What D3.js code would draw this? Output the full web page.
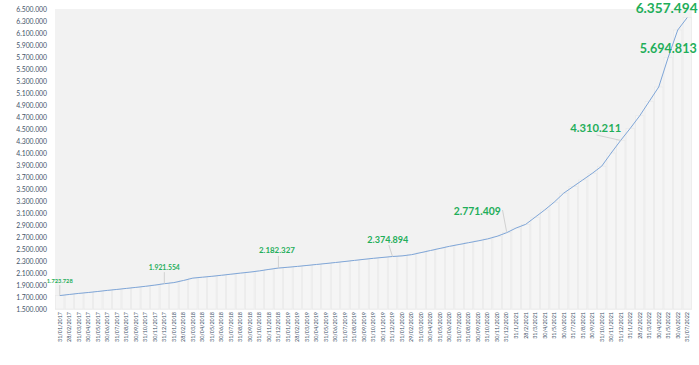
<!DOCTYPE html>
<html>
<head>
<meta charset="utf-8">
<script src="https://cdn.jsdelivr.net/npm/d3@7"></script>
<style>
  html, body { margin: 0; padding: 0; background: #ffffff; }
  svg { display: block; }
</style>
</head>
<body>
<svg id="chart" width="699" height="365"></svg>
<script>
// ---- DATA ----
const dates = [
  "31/01/2017","28/02/2017","31/03/2017","30/04/2017","31/05/2017","30/06/2017","31/07/2017","31/08/2017","30/09/2017","31/10/2017","30/11/2017","31/12/2017",
  "31/01/2018","28/02/2018","31/03/2018","30/04/2018","31/05/2018","30/06/2018","31/07/2018","31/08/2018","30/09/2018","31/10/2018","30/11/2018","31/12/2018",
  "31/01/2019","28/02/2019","31/03/2019","30/04/2019","31/05/2019","30/06/2019","31/07/2019","31/08/2019","30/09/2019","31/10/2019","30/11/2019","31/12/2019",
  "31/01/2020","29/02/2020","31/03/2020","30/04/2020","31/05/2020","30/06/2020","31/07/2020","31/08/2020","30/09/2020","31/10/2020","30/11/2020","31/12/2020",
  "31/1/2021","28/2/2021","31/3/2021","30/4/2021","31/5/2021","30/6/2021","31/7/2021","31/8/2021","30/9/2021","31/10/2021","30/11/2021","31/12/2021",
  "31/1/2022","28/2/2022","31/3/2022","30/4/2022","31/5/2022","30/6/2022","31/07/2022"
];
const values = [
  1723728,1742000,1760000,1775000,1792000,1810000,1826000,1843000,1860000,1878000,1898000,1921554,
  1940000,1975000,2015000,2030000,2045000,2062000,2080000,2098000,2115000,2135000,2160000,2182327,
  2196000,2210000,2226000,2242000,2258000,2275000,2292000,2310000,2328000,2345000,2360000,2374894,
  2385000,2405000,2440000,2475000,2510000,2545000,2575000,2605000,2635000,2668000,2712000,2771409,
  2850000,2910000,3030000,3150000,3280000,3430000,3540000,3650000,3760000,3880000,4100000,4310211,
  4510000,4720000,4960000,5200000,5694813,6150000,6357494
];
const yTicks = [1500000,1700000,1900000,2100000,2300000,2500000,2700000,2900000,3100000,3300000,
  3500000,3700000,3900000,4100000,4300000,4500000,4700000,4900000,5100000,5300000,5500000,5700000,
  5900000,6100000,6300000,6500000];
const labelIdx = [0, 11, 23, 35, 47, 59, 64, 66];

// ---- LAYOUT / STYLE ----
const plot = { left: 55, right: 692, top: 9, bottom: 309 };
// label placement: offsets of label centre/baseline from point, target text width, leader
const labelStyle = [
  { dx: 0,    dy: -12.6, w: 26, leader: [[0,-10.5],[0,0]] },
  { dx: 0,    dy: -13.7, w: 31, leader: [[0,-11.5],[0,0]] },
  { dx: -1.5, dy: -15,   w: 36, leader: [[0,-12],[0,0]] },
  { dx: -4.7, dy: -13.5, w: 41, leader: [[-3.7,-11.5],[0,0]] },
  { dx: -29.3,dy: -17.7, w: 47, leader: [[-4.1,-22.7],[0,-1]] },
  { dx: -25,  dy: -8.4,  w: 51, leader: [[-24.3,-5.4],[0,0]] },
  { dx: 0,    dy: -4.3,  w: 57, leader: null },
  { dx: -20.6,dy: -4.2,  w: 62, leader: null }
];

const svg = d3.select("#chart");
const fmt = d3.formatLocale({ decimal: ",", thousands: ".", grouping: [3], currency: ["", ""] }).format(",d");

const x = d3.scaleBand().domain(dates).range([plot.left, plot.right]).paddingInner(0.12).paddingOuter(0.06);
const y = d3.scaleLinear().domain([1500000, 6500000]).range([plot.bottom, plot.top]);

// plot background
svg.append("rect")
  .attr("x", plot.left).attr("y", plot.top)
  .attr("width", plot.right - plot.left).attr("height", plot.bottom - plot.top + 1)
  .attr("fill", "#f2f2f2");

// bars
svg.append("g").selectAll("rect").data(values).join("rect")
  .attr("x", (d, i) => x(dates[i]))
  .attr("width", x.bandwidth())
  .attr("y", d => y(d))
  .attr("height", d => y(1500000) - y(d))
  .attr("fill", "#f5f5f5")
  .attr("stroke", "#e6e6e6")
  .attr("stroke-width", 0.5);

// y axis
const yAxis = d3.axisLeft(y).tickValues(yTicks).tickFormat(fmt).tickSize(0).tickPadding(0);
const gy = svg.append("g").attr("transform", `translate(47,0)`).call(yAxis);
gy.select(".domain").remove();
gy.selectAll("text")
  .attr("fill", "#44546a")
  .style("font-family", "Lato, 'Open Sans', sans-serif")
  .style("font-size", "6.8px");

// x axis
const xAxis = d3.axisBottom(x).tickSize(0).tickPadding(0);
const gx = svg.append("g").attr("transform", `translate(0,${plot.bottom + 3})`).call(xAxis);
gx.select(".domain").remove();
gx.selectAll("text")
  .attr("transform", "rotate(-90)")
  .attr("text-anchor", "end")
  .attr("x", 0).attr("y", 0).attr("dy", "0.35em")
  .attr("fill", "#44546a")
  .style("font-family", "Lato, 'Open Sans', sans-serif")
  .style("font-size", "5.4px");

// line
const cx = (i) => x(dates[i]) + x.bandwidth() / 2;
const line = d3.line().x((d, i) => cx(i)).y(d => y(d));
svg.append("path")
  .datum(values)
  .attr("d", line)
  .attr("fill", "none")
  .attr("stroke", "#7fa6d8")
  .attr("stroke-width", 1);

// labels
const gl = svg.append("g");
labelIdx.forEach((idx, k) => {
  const s = labelStyle[k];
  const px = cx(idx), py = y(values[idx]);
  if (s.leader) {
    gl.append("line")
      .attr("x1", px + s.leader[0][0]).attr("y1", py + s.leader[0][1])
      .attr("x2", px + s.leader[1][0]).attr("y2", py + s.leader[1][1])
      .attr("stroke", "#c8c8c8").attr("stroke-width", 0.8);
  }
  gl.append("text")
    .attr("x", px + s.dx).attr("y", py + s.dy)
    .attr("text-anchor", "middle")
    .attr("textLength", s.w)
    .attr("lengthAdjust", "spacingAndGlyphs")
    .attr("fill", "#1fae5a")
    .style("font-family", "Lato, 'Open Sans', sans-serif")
    .style("font-weight", "bold")
    .style("font-size", (s.w / 4.4) + "px")
    .text(fmt(values[idx]));
});
</script>
</body>
</html>
